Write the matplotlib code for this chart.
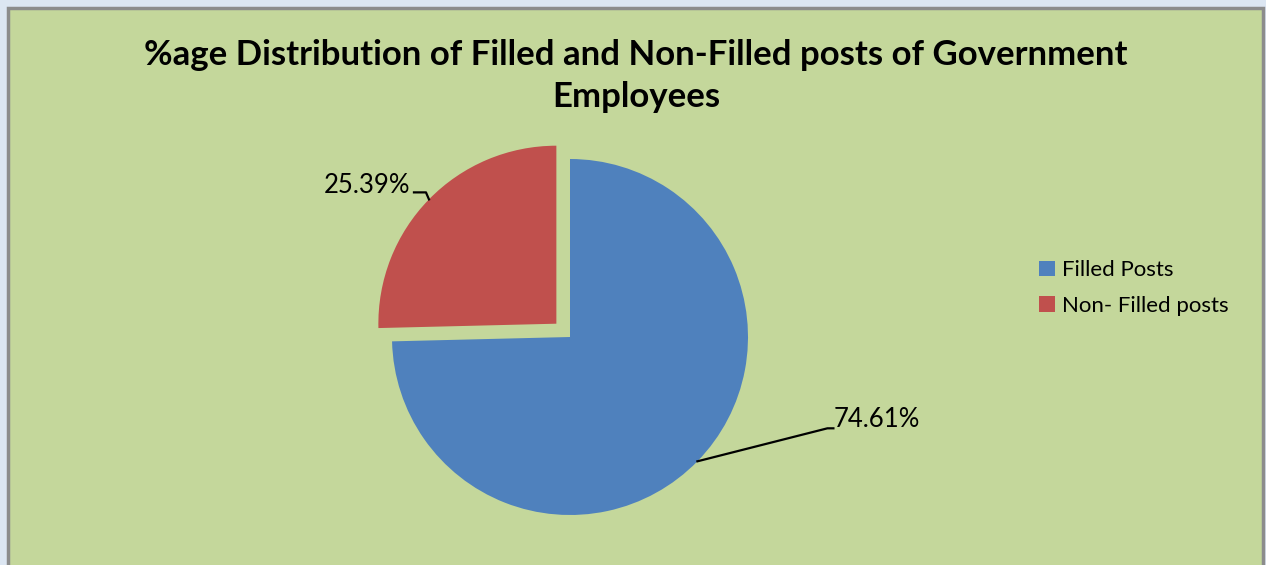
import numpy as np
import matplotlib.pyplot as plt
from matplotlib.patches import Rectangle

# data
labels = ['Filled Posts', 'Non- Filled posts']
shares = [74.61, 25.39]
colors = ['#4F81BD', '#C0504D']
explode_frac = [0, 0.107]
title = '%age Distribution of Filled and Non-Filled posts of Government\nEmployees'

plt.rcParams['font.family'] = ['Lato', 'DejaVu Sans']

W, H = 1266, 565
fig = plt.figure(figsize=(W / 100, H / 100), dpi=100)
fig.patch.set_facecolor('#DCE6F2')
ax = fig.add_axes([0, 0, 1, 1])

# chart area
ax.add_patch(Rectangle((8, -10), 1255, H - 8 + 10, facecolor='#C4D79B',
                       edgecolor='#8C8C8C', linewidth=2.5, zorder=0))

center = (570, H - 337)
radius = 178
# pie explode is in data units here, so scale by radius
wedges, _ = ax.pie(shares, colors=colors, explode=[e * radius for e in explode_frac],
                   startangle=90, counterclock=False, center=center, radius=radius,
                   wedgeprops=dict(linewidth=0), frame=True)
ax.set_xlim(0, W)
ax.set_ylim(0, H)
ax.set_aspect('equal')
ax.axis('off')

# data labels with leader lines
for w, val in zip(wedges, shares):
    ang = np.deg2rad((w.theta1 + w.theta2) / 2)
    cx, cy = w.center
    ex = cx + w.r * np.cos(ang)
    ey = cy + w.r * np.sin(ang)
    if np.cos(ang) > 0:
        kx, ky = ex + 130, ey + 33
        ax.plot([ex, kx, kx + 6], [ey, ky, ky], color='black', lw=1.6, zorder=5)
        ax.text(kx + 6, ky + 9, f'{val:.2f}%', fontsize=18.5, ha='left', va='center')
    else:
        kx, ky = ex - 3, ey + 7
        ax.plot([ex, kx, kx - 12], [ey, ky, ky], color='black', lw=1.6, zorder=5)
        ax.text(kx - 16, ky + 7, f'{val:.2f}%', fontsize=18.5, ha='right', va='center')

ax.text(636, H - 76, title, fontsize=25, fontweight='bold', ha='center',
        va='center', linespacing=1.4)

leg = ax.legend(wedges, labels, loc='center left', bbox_to_anchor=(1019 / W, 1 - 288 / H),
                frameon=False, fontsize=16, handlelength=0.7, handleheight=0.7,
                handletextpad=0.35, labelspacing=0.7)

fig.savefig('out.png', dpi=100, facecolor=fig.get_facecolor())
